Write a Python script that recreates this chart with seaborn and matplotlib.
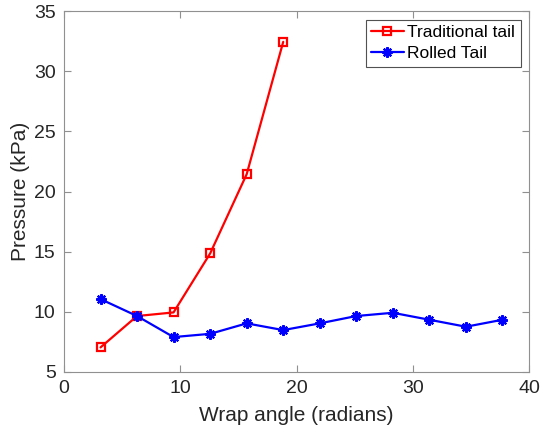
import numpy as np
import pandas as pd
import matplotlib
matplotlib.use("Agg")
import matplotlib.pyplot as plt
import seaborn as sns

# Wrap angles (multiples of pi) and measured pressures
trad_angle = [3.14, 6.28, 9.42, 12.57, 15.71, 18.85]
trad_pressure = [7.04, 9.65, 9.95, 14.86, 21.45, 32.45]

rolled_angle = [3.14, 6.28, 9.42, 12.57, 15.71, 18.85, 21.99, 25.13, 28.27, 31.42, 34.56, 37.70]
rolled_pressure = [11.06, 9.65, 7.90, 8.17, 9.04, 8.48, 9.04, 9.65, 9.92, 9.34, 8.76, 9.34]

labels = ["Traditional tail", "Rolled Tail"]
xticks = [0, 10, 20, 30, 40]
yticks = [5, 10, 15, 20, 25, 30, 35]

sns.set_theme(style="white")
plt.rcParams["font.family"] = ["Liberation Sans", "DejaVu Sans"]
axcol = "#262626"

fig = plt.figure(figsize=(5.4, 4.3), dpi=100)
ax = fig.add_axes([0.1185, 0.135, 0.8615, 0.839])

trad = pd.DataFrame({"angle": trad_angle, "pressure": trad_pressure})
rolled = pd.DataFrame({"angle": rolled_angle, "pressure": rolled_pressure})

sns.lineplot(data=trad, x="angle", y="pressure", ax=ax, color="#ff0000",
             lw=1.6, marker="s", markersize=5.5, markerfacecolor="none",
             markeredgecolor="#ff0000", markeredgewidth=1.6,
             label=labels[0], estimator=None, sort=False)
sns.lineplot(data=rolled, x="angle", y="pressure", ax=ax, color="#0000ff",
             lw=1.6, marker=(8, 2, 0), markersize=7.5,
             markeredgecolor="#0000ff", markeredgewidth=1.6,
             label=labels[1], estimator=None, sort=False)

ax.set_xlim(0, 40)
ax.set_ylim(5, 35)
ax.set_xticks(xticks)
ax.set_yticks(yticks)
ax.set_xlabel("Wrap angle (radians)", fontsize=15, color=axcol, labelpad=6)
ax.set_ylabel("Pressure (kPa)", fontsize=15, color=axcol, labelpad=3)
ax.tick_params(axis="both", which="both", direction="in", length=5, width=0.8,
               colors="#909090", labelcolor=axcol, labelsize=14, pad=6,
               top=True, right=True, bottom=True, left=True)
for s in ax.spines.values():
    s.set_color("#909090")
    s.set_linewidth(0.8)
ax.grid(False)

leg = ax.legend(loc="upper right", fontsize=12.5, frameon=True, fancybox=False,
                edgecolor="#262626", borderaxespad=0.5, handlelength=1.9,
                borderpad=0.3, labelspacing=0.35, handletextpad=0.2)
leg.get_frame().set_linewidth(0.8)
for t in leg.get_texts():
    t.set_color("black")

fig.savefig("out.png", dpi=100)
